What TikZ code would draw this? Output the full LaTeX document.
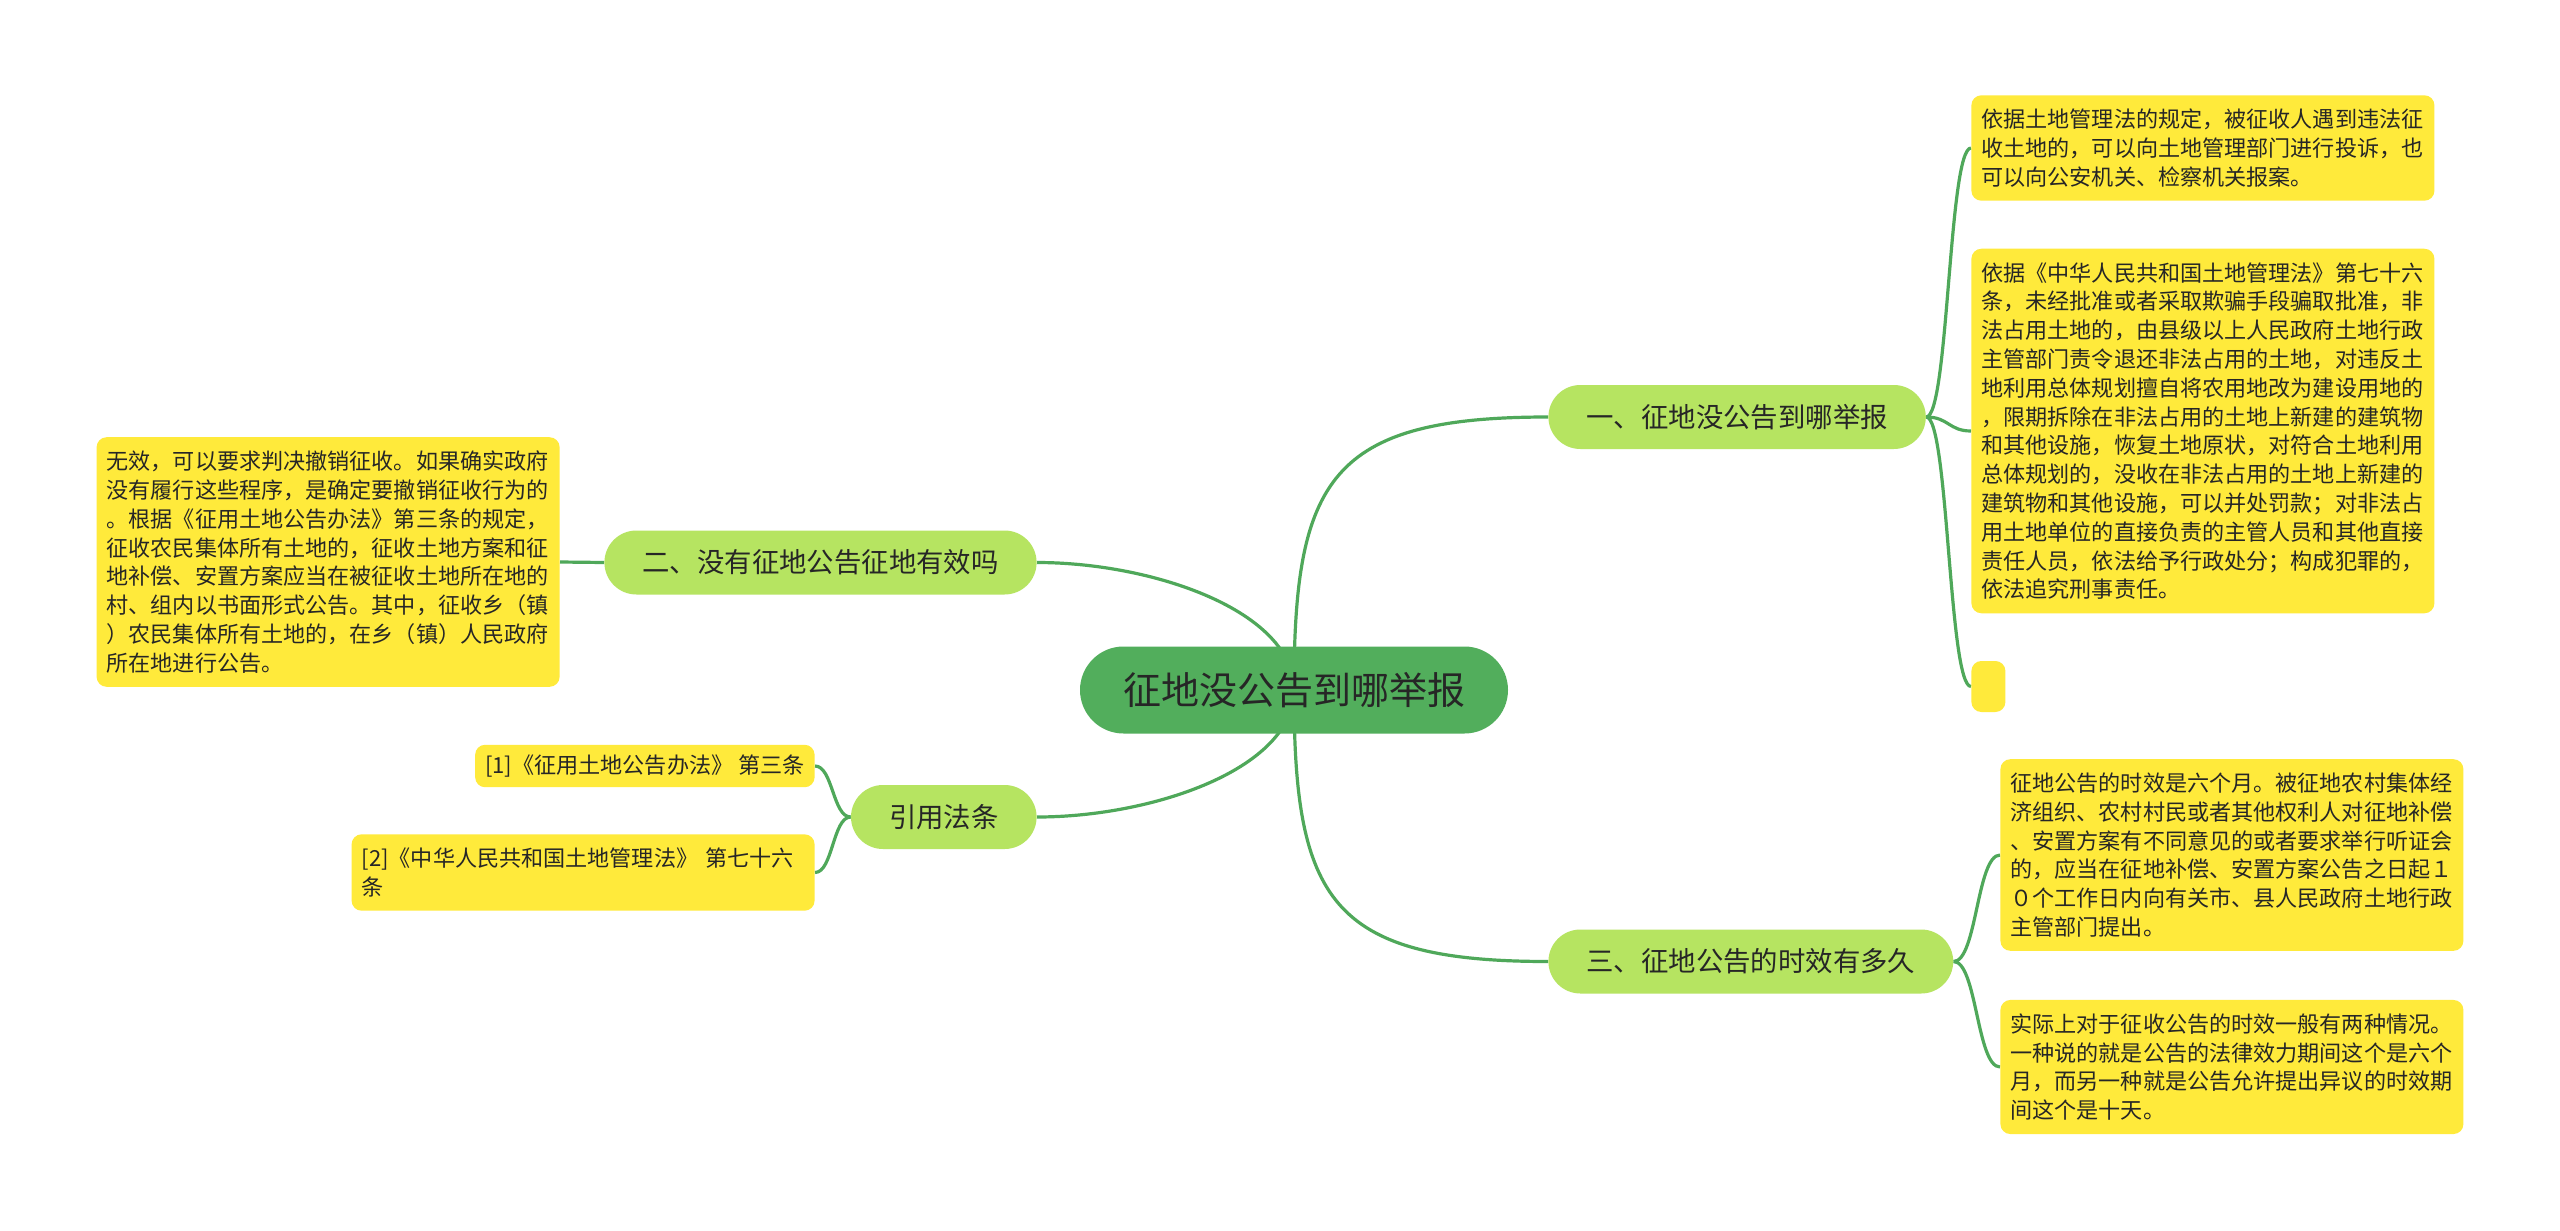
\documentclass[tikz,border=0pt]{standalone}
\usepackage{fontspec}
\setmainfont{Noto Sans CJK SC}
\usepackage{tikz}
\usetikzlibrary{calc,backgrounds}
\definecolor{rootgreen}{HTML}{52AE5C}
\definecolor{topicgreen}{HTML}{B6E461}
\definecolor{leafyellow}{HTML}{FFEA3B}
\definecolor{linkgreen}{HTML}{4FA85A}

\begin{document}
\begin{tikzpicture}[
  x=0.5pt, y=-0.5pt,
  every node/.style={text=black!85},
  root/.style={fill=rootgreen, rounded corners=21.75pt, minimum height=43.5pt, inner xsep=21.5pt, font=\fontsize{19}{22}\selectfont},
  topic/.style={fill=topicgreen, rounded corners=16pt, minimum height=32pt, inner xsep=19pt, font=\fontsize{13.7}{16}\selectfont},
  leaf/.style={fill=leafyellow, rounded corners=5pt, inner xsep=5pt, inner ysep=6.8pt, align=left, font=\fontsize{11.05}{14.4}\selectfont},
  wide/.style={leaf, text width=221.5pt},
  link/.style={draw=linkgreen, line width=1.6pt},
  stemtall/.style={to path={.. controls ($(\tikztostart)!.77!(\tikztostart |- \tikztotarget)$) and ($(\tikztotarget)!.86!(\tikztotarget -| \tikztostart)$) .. (\tikztotarget)}},
  stemflat/.style={to path={.. controls ($(\tikztostart)!.62!(\tikztostart |- \tikztotarget)$) and ($(\tikztotarget)!.45!(\tikztotarget -| \tikztostart)$) .. (\tikztotarget)}},
  twig/.style={to path={.. controls ($(\tikztostart)!.5!(\tikztostart -| \tikztotarget)$) and ($(\tikztotarget)!.5!(\tikztotarget -| \tikztostart)$) .. (\tikztotarget)}},
]
\useasboundingbox (0,0) rectangle (2560,1231);
\node[root] (root) at (1294,690) {征地没公告到哪举报};
\node[topic, anchor=west] (q1) at (1548,417) {一、征地没公告到哪举报};
\node[topic, anchor=east] (q2) at (1037,562.5) {二、没有征地公告征地有效吗};
\node[topic, anchor=west] (q3) at (1548,961.5) {三、征地公告的时效有多久};
\node[topic, anchor=east] (law) at (1037,817) {引用法条};
\node[wide, anchor=west] (q1a) at (1971,148) {依据土地管理法的规定，被征收人遇到违法征\\收土地的，可以向土地管理部门进行投诉，也\\可以向公安机关、检察机关报案。};
\node[wide, anchor=west] (q1b) at (1971,431) {依据《中华人民共和国土地管理法》第七十六\\条，未经批准或者采取欺骗手段骗取批准，非\\法占用土地的，由县级以上人民政府土地行政\\主管部门责令退还非法占用的土地，对违反土\\地利用总体规划擅自将农用地改为建设用地的\\，限期拆除在非法占用的土地上新建的建筑物\\和其他设施，恢复土地原状，对符合土地利用\\总体规划的，没收在非法占用的土地上新建的\\建筑物和其他设施，可以并处罚款；对非法占\\用土地单位的直接负责的主管人员和其他直接\\责任人员，依法给予行政处分；构成犯罪的，\\依法追究刑事责任。};
\node[leaf, minimum width=17pt, minimum height=25.5pt, anchor=west] (q1c) at (1971,686.5) {};
\node[wide, anchor=east] (q2a) at (560,562) {无效，可以要求判决撤销征收。如果确实政府\\没有履行这些程序，是确定要撤销征收行为的\\。根据《征用土地公告办法》第三条的规定，\\征收农民集体所有土地的，征收土地方案和征\\地补偿、安置方案应当在被征收土地所在地的\\村、组内以书面形式公告。其中，征收乡（镇\\）农民集体所有土地的，在乡（镇）人民政府\\所在地进行公告。};
\node[leaf, inner ysep=5pt, anchor=east] (law1) at (815,766) {[1]《征用土地公告办法》 第三条};
\node[wide, anchor=east] (law2) at (815,872.5) {[2]《中华人民共和国土地管理法》 第七十六\\条};
\node[wide, anchor=west] (q3a) at (2000,855) {征地公告的时效是六个月。被征地农村集体经\\济组织、农村村民或者其他权利人对征地补偿\\、安置方案有不同意见的或者要求举行听证会\\的，应当在征地补偿、安置方案公告之日起１\\０个工作日内向有关市、县人民政府土地行政\\主管部门提出。};
\node[wide, anchor=west] (q3b) at (2000,1067) {实际上对于征收公告的时效一般有两种情况。\\一种说的就是公告的法律效力期间这个是六个\\月，而另一种就是公告允许提出异议的时效期\\间这个是十天。};
\begin{scope}[on background layer]
\fill[white] (0,0) rectangle (2560,1231);
\draw[link] (root.center) to[stemtall] (q1.west);
\draw[link] (root.center) to[stemtall] (q3.west);
\draw[link] (root.center) to[stemflat] (q2.east);
\draw[link] (root.center) to[stemflat] (law.east);
\draw[link] (q1.east) to[twig] (q1a.west);
\draw[link] (q1.east) to[twig] (q1b.west);
\draw[link] (q1.east) to[twig] (q1c.west);
\draw[link] (q2.west) to[twig] (q2a.east);
\draw[link] (law.west) to[twig] (law1.east);
\draw[link] (law.west) to[twig] (law2.east);
\draw[link] (q3.east) to[twig] (q3a.west);
\draw[link] (q3.east) to[twig] (q3b.west);
\end{scope}
\end{tikzpicture}
\end{document}
